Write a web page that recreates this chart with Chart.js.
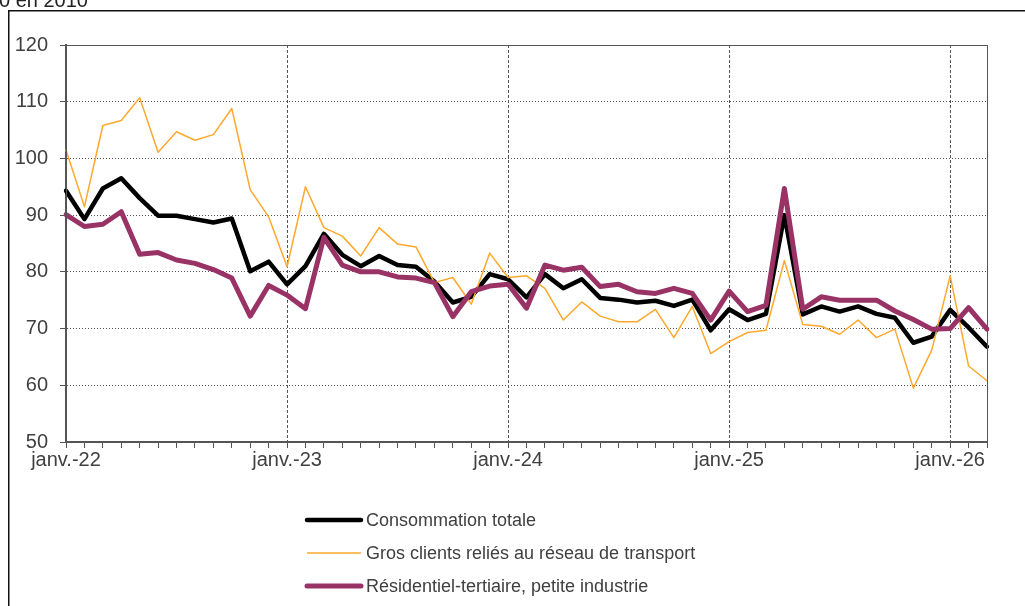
<!DOCTYPE html>
<html>
<head>
<meta charset="utf-8">
<script src="https://cdn.jsdelivr.net/npm/chart.js@4"></script>
<style>
  html, body { margin: 0; padding: 0; background: #fff; }
  #wrap { width: 1025px; height: 606px; }
</style>
</head>
<body>
<div id="wrap"><canvas id="consoChart" width="1025" height="606"></canvas></div>
<script>
// Mois de janv.-22 à mars-26
const moisNoms = ['janv.', 'févr.', 'mars', 'avr.', 'mai', 'juin', 'juil.', 'août', 'sept.', 'oct.', 'nov.', 'déc.'];
const annees = ['22', '23', '24', '25', '26'];
const mois = [];
annees.forEach(function(a) {
    moisNoms.forEach(function(m) { mois.push(m + '-' + a); });
});
mois.length = 51;

const yTicks = [50, 60, 70, 80, 90, 100, 110, 120];

const consoTotale = [
    94.3, 89.3, 94.7, 96.5, 93.0, 89.9, 89.9, 89.3, 88.7, 89.4, 80.1, 81.8,
    77.8, 81.0, 86.7, 83.0, 81.0, 82.8, 81.2, 80.9, 78.3, 74.6, 75.6, 79.6,
    78.7, 75.5, 79.6, 77.1, 78.7, 75.4, 75.1, 74.6, 74.9, 74.0, 75.1, 69.7,
    73.4, 71.5, 72.6, 90.0, 72.5, 73.9, 73.0, 73.9, 72.6, 71.9, 67.5, 68.6,
    73.3, 70.2, 66.8
];
const grosClients = [
    101.5, 91.5, 105.8, 106.7, 110.7, 101.1, 104.7, 103.2, 104.2, 108.8, 94.5, 89.7,
    80.9, 95.0, 87.8, 86.3, 82.8, 87.8, 84.9, 84.4, 78.1, 79.0, 74.3, 83.3,
    79.0, 79.3, 77.1, 71.5, 74.7, 72.2, 71.2, 71.2, 73.4, 68.4, 73.9, 65.6,
    67.7, 69.3, 69.7, 82.0, 70.7, 70.4, 69.0, 71.5, 68.4, 69.9, 59.5, 66.2,
    79.3, 63.4, 60.8
];
const residentiel = [
    90.1, 88.0, 88.4, 90.6, 83.1, 83.4, 82.1, 81.5, 80.4, 78.9, 72.2, 77.6,
    75.9, 73.5, 86.1, 81.2, 80.0, 80.0, 79.1, 78.9, 78.1, 72.1, 76.5, 77.5,
    77.8, 73.6, 81.2, 80.3, 80.8, 77.4, 77.8, 76.5, 76.2, 77.1, 76.2, 71.5,
    76.6, 73.0, 74.1, 94.7, 73.4, 75.6, 75.0, 75.0, 75.0, 73.1, 71.6, 69.9,
    70.0, 73.7, 69.9
];

const texteGris = '#404040';
const axeGris = '#555555';

// fond blanc, cadre, titre coupé, bordure du graphique, légende
const decorPlugin = {
    id: 'decor',
    beforeDraw: function(chart) {
        const c = chart.ctx;
        c.save();
        c.fillStyle = '#fff';
        c.fillRect(0, 0, chart.width, chart.height);
        c.restore();
    },
    afterDraw: function(chart) {
        const c = chart.ctx;
        const area = chart.chartArea;
        c.save();
        // cadre extérieur
        c.strokeStyle = '#111';
        c.lineWidth = 1.5;
        c.beginPath();
        c.moveTo(8.75, 606);
        c.lineTo(8.75, 10.75);
        c.lineTo(1025, 10.75);
        c.stroke();
        // bordure de la zone de tracé
        c.strokeStyle = axeGris;
        c.lineWidth = 1;
        c.strokeRect(Math.round(area.left) + 0.5, Math.round(area.top) + 0.5,
                     Math.round(area.right - area.left), Math.round(area.bottom - area.top));
        // texte du haut (coupé)
        c.fillStyle = '#222';
        c.font = '20px "Liberation Sans", Arial, sans-serif';
        c.textBaseline = 'alphabetic';
        c.textAlign = 'left';
        c.fillText('0 en 2010', -1, 7);
        // légende
        const rows = [520, 553, 586];
        c.font = '18px "Liberation Sans", Arial, sans-serif';
        c.textBaseline = 'middle';
        chart.data.datasets.forEach(function(ds, i) {
            c.strokeStyle = ds.borderColor;
            c.lineWidth = ds.borderWidth;
            c.lineCap = ds.borderWidth > 2 ? 'round' : 'butt';
            c.beginPath();
            c.moveTo(307, rows[i]);
            c.lineTo(361, rows[i]);
            c.stroke();
            c.fillStyle = texteGris;
            c.fillText(ds.label, 366, rows[i] + 1);
        });
        c.restore();
    }
};

const ctx = document.getElementById('consoChart').getContext('2d');

const consoChart = new Chart(ctx, {
    type: 'line',
    data: {
        labels: mois,
        datasets: [
            {
                label: 'Consommation totale',
                data: consoTotale,
                borderColor: '#000000',
                borderWidth: 4.5,
                order: 3
            },
            {
                label: 'Gros clients reliés au réseau de transport',
                data: grosClients,
                borderColor: '#FFA82E',
                borderWidth: 1.5,
                order: 2
            },
            {
                label: 'Résidentiel-tertiaire, petite industrie',
                data: residentiel,
                borderColor: '#993366',
                borderWidth: 5,
                order: 1
            }
        ]
    },
    options: {
        responsive: false,
        animation: false,
        devicePixelRatio: 1,
        layout: {
            padding: { left: 0, top: 45, right: 38, bottom: 124 }
        },
        elements: {
            line: { tension: 0, borderJoinStyle: 'round', borderCapStyle: 'round', fill: false },
            point: { radius: 0, hoverRadius: 0 }
        },
        plugins: {
            legend: { display: false },
            tooltip: { enabled: false },
            title: { display: false }
        },
        scales: {
            x: {
                type: 'category',
                offset: false,
                afterFit: function(scale) { scale.height = 40; },
                grid: {
                    color: function(c) {
                        return (c.index % 12 === 0) ? axeGris : 'rgba(0,0,0,0)';
                    },
                    lineWidth: 1,
                    tickColor: axeGris,
                    tickLength: 6,
                    tickBorderDash: []
                },
                border: { display: true, color: axeGris, width: 2, dash: [3, 2] },
                ticks: {
                    autoSkip: false,
                    maxRotation: 0,
                    minRotation: 0,
                    padding: 0,
                    color: texteGris,
                    font: { family: '"Liberation Sans", Arial, sans-serif', size: 20 },
                    callback: function(val, idx) {
                        return (idx % 12 === 0) ? mois[idx] : '';
                    }
                }
            },
            y: {
                min: 50,
                max: 120,
                afterFit: function(scale) { scale.width = 66; },
                afterBuildTicks: function(scale) {
                    scale.ticks = yTicks.map(function(v) { return { value: v }; });
                },
                grid: {
                    color: axeGris,
                    lineWidth: 1,
                    tickColor: axeGris,
                    tickLength: 6,
                    tickBorderDash: []
                },
                border: { display: true, color: axeGris, width: 2, dash: [1, 2] },
                ticks: {
                    padding: 12,
                    color: texteGris,
                    font: { family: '"Liberation Sans", Arial, sans-serif', size: 20 }
                }
            }
        }
    },
    plugins: [decorPlugin]
});
</script>
</body>
</html>
